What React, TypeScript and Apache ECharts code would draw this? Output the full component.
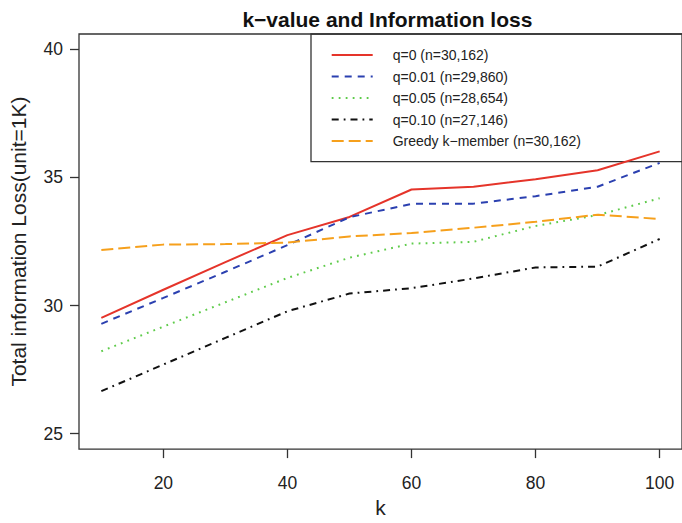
import React, { useEffect, useRef } from "react";
import * as echarts from "echarts";

const kValues = [10, 20, 30, 40, 50, 60, 70, 80, 90, 100];
const q0 = [29.52, 30.62, 31.7, 32.75, 33.46, 34.53, 34.64, 34.93, 35.28, 36.02];
const q001 = [29.29, 30.3, 31.32, 32.36, 33.45, 33.97, 33.98, 34.27, 34.64, 35.57];
const q005 = [28.22, 29.18, 30.13, 31.08, 31.87, 32.42, 32.49, 33.11, 33.53, 34.19];
const q010 = [26.66, 27.7, 28.74, 29.78, 30.47, 30.68, 31.06, 31.49, 31.52, 32.6];
const greedy = [32.17, 32.38, 32.4, 32.46, 32.7, 32.83, 33.04, 33.27, 33.55, 33.38];

const seriesNames = [
  "q=0 (n=30,162)",
  "q=0.01 (n=29,860)",
  "q=0.05 (n=28,654)",
  "q=0.10 (n=27,146)",
  "Greedy k\u2212member (n=30,162)",
];
const xTicks = [20, 40, 60, 80, 100];
const yTicks = [25, 30, 35, 40];

const FONT = "'Liberation Sans', Arial, Helvetica, sans-serif";

export default function App() {
  const ref = useRef<HTMLDivElement>(null);
  useEffect(() => {
    if (!ref.current) return;
    const chart = echarts.init(ref.current, undefined, { renderer: "svg" });
    const allData = [q0, q001, q005, q010, greedy];
    const styles = [
      { color: "#E5342A", type: "solid" as any },
      { color: "#2B40B0", type: [7, 6] as any },
      { color: "#5ECB4A", type: [1.8, 5.2] as any },
      { color: "#111111", type: [7, 5, 1.8, 5] as any },
      { color: "#F6A01C", type: [12, 5] as any },
    ];
    const series = allData.map((vals, i) => ({
      name: seriesNames[i],
      type: "line",
      data: kValues.map((k, j) => [k, vals[j]]),
      symbol: "none",
      lineStyle: { color: styles[i].color, width: 2, type: styles[i].type, cap: "butt" },
      itemStyle: { color: styles[i].color },
      z: 3,
    }));
    chart.setOption({
      animation: false,
      backgroundColor: "#ffffff",
      textStyle: { fontFamily: FONT },
      title: {
        text: "k\u2212value and Information loss",
        left: 382.4,
        textAlign: "center",
        top: 4,
        textStyle: { fontFamily: FONT, fontWeight: "bold", fontSize: 21, color: "#111" },
      },
      grid: {
        left: 78.7,
        top: 34,
        width: 607.3,
        height: 422.7,
        show: true,
        borderColor: "#333",
        borderWidth: 1.3,
        backgroundColor: "transparent",
      },
      xAxis: {
        type: "value",
        min: 6.4,
        max: 103.6,
        name: "k",
        nameLocation: "middle",
        nameGap: 44,
        nameTextStyle: { fontFamily: FONT, fontSize: 21, color: "#222" },
        axisLine: { show: false },
        splitLine: { show: false },
        axisTick: {
          show: true,
          length: 9,
          customValues: xTicks,
          lineStyle: { color: "#333", width: 1.3 },
        },
        axisLabel: {
          customValues: xTicks,
          margin: 25,
          fontFamily: FONT,
          fontSize: 17.5,
          color: "#222",
        },
      },
      yAxis: {
        type: "value",
        min: 24.4,
        max: 40.6,
        name: "Total information Loss(unit=1K)",
        nameLocation: "middle",
        nameGap: 50,
        nameTextStyle: { fontFamily: FONT, fontSize: 21, color: "#222" },
        axisLine: { show: false },
        splitLine: { show: false },
        axisTick: {
          show: true,
          length: 9,
          customValues: yTicks,
          lineStyle: { color: "#333", width: 1.3 },
        },
        axisLabel: {
          customValues: yTicks,
          margin: 16,
          fontFamily: FONT,
          fontSize: 17.5,
          color: "#222",
        },
      },
      legend: {
        orient: "vertical",
        left: 330.7,
        top: 48,
        padding: 0,
        itemWidth: 41,
        itemHeight: 14,
        itemGap: 7.5,
        data: seriesNames,
        itemStyle: { opacity: 0, borderWidth: 0 },
        textStyle: {
          fontFamily: FONT,
          fontSize: 14,
          color: "#222",
          lineHeight: 14,
          padding: [0, 0, 0, 15],
        },
      },
      graphic: [
        {
          type: "rect",
          shape: { x: 311, y: 34, width: 420, height: 127.7 },
          style: { fill: "none", stroke: "#333", lineWidth: 1.3 },
          silent: true,
          z: 1,
        },
      ],
      series,
    });
    return () => chart.dispose();
  }, []);
  return (
    <div
      ref={ref}
      style={{ position: "fixed", left: 0, top: 0, width: 682, height: 523, background: "#fff" }}
    />
  );
}
